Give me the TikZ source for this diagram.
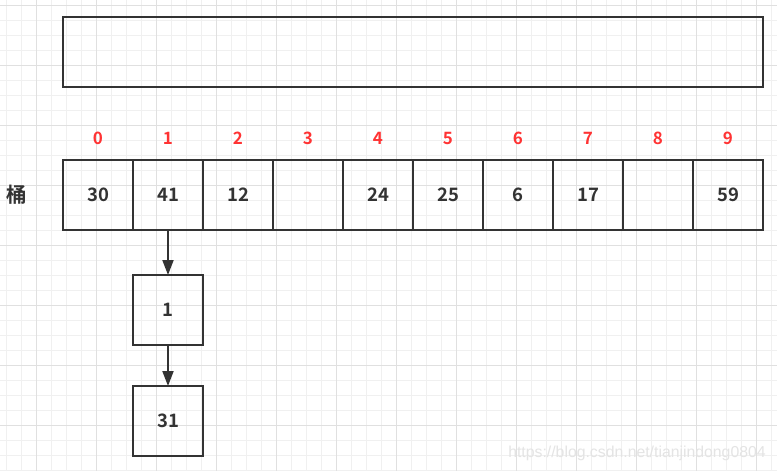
\documentclass[tikz,border=0pt]{standalone}
\usepackage{fontspec}
\setmainfont{Noto Sans CJK SC}[BoldFont={Noto Sans CJK SC Bold}]
\newfontfamily\wmfont{Liberation Sans}
\usepackage{tikz}
\usetikzlibrary{positioning,arrows.meta}

\definecolor{linegray}{HTML}{333333}
\definecolor{idxred}{HTML}{FF3333}
\definecolor{gridminor}{HTML}{F0F0F0}
\definecolor{gridmajor}{HTML}{E0E0E0}
\definecolor{wmgray}{HTML}{E4E4E4}

\begin{document}
\begin{tikzpicture}[
  x=1pt, y=-1pt,
  cell/.style={rectangle, draw=linegray, line width=2pt, minimum width=70pt, minimum height=70pt,
               inner sep=0pt, outer sep=0pt, text=linegray, font=\bfseries\fontsize{18.5}{18.5}\selectfont},
  idx/.style={text=idxred, font=\bfseries\fontsize{17}{17}\selectfont},
  arr/.style={-{Triangle[length=15pt, width=11pt]}, line width=2pt, draw=linegray},
]
  \useasboundingbox (0,0) rectangle (777,471);
  \fill[white] (0,0) rectangle (777,471);

  % background grid
  \foreach \i in {0,...,51} \draw[gridminor, line width=1pt] (6.7+15*\i,0) -- (6.7+15*\i,471);
  \foreach \i in {0,...,31} \draw[gridminor, line width=1pt] (0,5+15*\i) -- (777,5+15*\i);
  \foreach \i in {0,...,12} \draw[gridmajor, line width=1pt] (36.7+60*\i,0) -- (36.7+60*\i,471);
  \foreach \i in {0,...,7} \draw[gridmajor, line width=1pt] (0,5+60*\i) -- (777,5+60*\i);

  % top box
  \node[cell, minimum width=700pt] (store) at (413,52) {};

  % buckets
  \node[cell] (b0) at (98,195) {30};
  \foreach \v [count=\i from 1, evaluate=\i as \p using int(\i-1)] in {41,12,{},24,25,6,17,{},59}
    \node[cell, right=0pt of b\p] (b\i) {\v};
  \foreach \i in {0,...,9}
    \node[idx] at ([yshift=22pt]b\i.north) {\i};
  \node[inner sep=0pt, text=linegray, font=\bfseries\fontsize{20.5}{20.5}\selectfont, left=36pt of b0] (label) {桶};

  % chain of bucket 1
  \node[cell, below=45pt of b1] (n1) {1};
  \node[cell, below=41pt of n1] (n2) {31};

  % arrows
  \draw[arr] (b1.south) -- (n1.north);
  \draw[arr] (n1.south) -- (n2.north);

  % watermark
  \node[text=wmgray, font=\wmfont\fontsize{15.8}{16}\selectfont, inner sep=0pt] (wm) at (637,453) {https://blog.csdn.net/tianjindong0804};
\end{tikzpicture}
\end{document}
